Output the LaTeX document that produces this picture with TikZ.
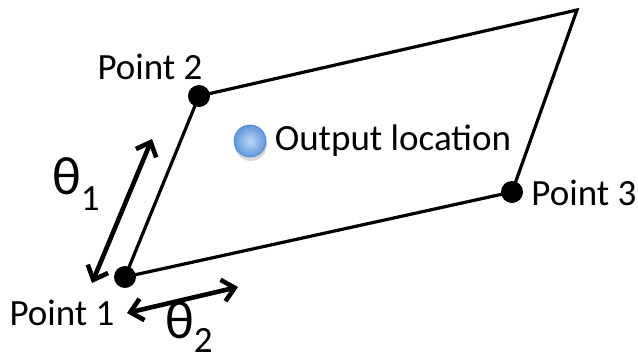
\documentclass[tikz,border=0pt]{standalone}
\usepackage{fontspec}
\setmainfont{Carlito}
\usepackage{tikz}
\usetikzlibrary{positioning,arrows.meta}

\begin{document}
\begin{tikzpicture}[
  x=0.5pt, y=-0.5pt,
  dot/.style={circle, fill=black, inner sep=0pt, minimum size=11pt},
  lbl/.style={font=\fontsize{18.5}{20}\selectfont, inner sep=0pt},
  edge/.style={line width=1.6pt, line join=miter},
  dbl/.style={{Straight Barb[length=6pt,width=11pt]}-{Straight Barb[length=6pt,width=11pt]},
              line width=2.3pt},
  ang/.style={font=\fontsize{27}{27}\selectfont, inner sep=0pt},
]
\useasboundingbox (0,0) rectangle (638,360);

\coordinate (p4) at (577,10);
\node[dot] (p1) at (125,277) {};
\node[dot] (p2) at (199,96) {};
\node[dot] (p3) at (512,192) {};

\draw[edge] (p1.center) -- (p2.center) -- (p4) -- (p3.center) -- cycle;

\node[lbl] (l1) at (62,313) {Point 1};
\node[lbl] (l2) at (150,67) {Point 2};
\node[lbl, anchor=west] (l3) at (531,193) {Point 3};

% output location marker with its drop shadow
\fill[black!25, opacity=0.6] (251,145) circle (8pt);
\node[circle, inner sep=0pt, minimum size=16pt, draw={rgb,255:red,90;green,140;blue,210}, line width=0.4pt,
      inner color={rgb,255:red,190;green,215;blue,245},
      outer color={rgb,255:red,95;green,150;blue,220}] (out) at (250,141) {};
\node[lbl, right=4pt of out] (outlbl) {Output location};

% angle arrows
\coordinate (a1s) at (92,283);
\coordinate (a1e) at (152,139);
\coordinate (a2s) at (127,313);
\coordinate (a2e) at (238,287);
\draw[dbl] (a1s) -- (a1e);
\draw[dbl] (a2s) -- (a2e);

\node[ang] (t1) at (76,184) {θ\raisebox{-8pt}{\fontsize{18.5}{20}\selectfont 1}};
\node[ang] (t2) at (189,327) {θ\raisebox{-7pt}{\fontsize{18.5}{20}\selectfont 2}};
\end{tikzpicture}
\end{document}
